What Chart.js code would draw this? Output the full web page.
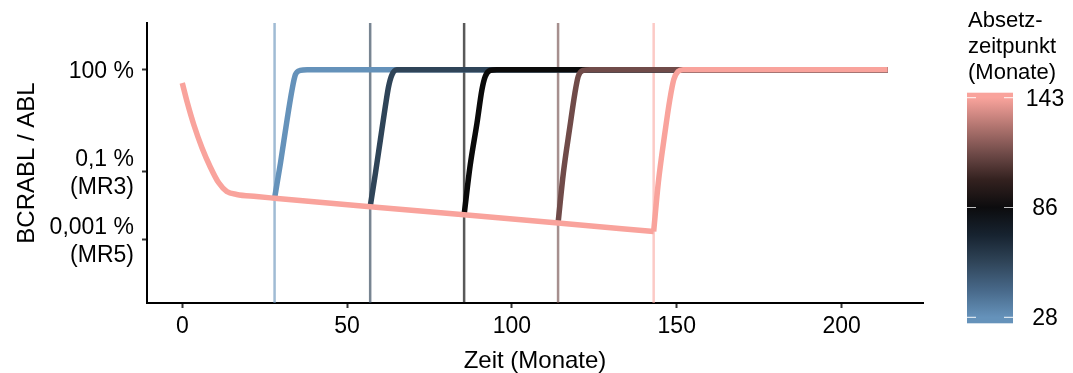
<!DOCTYPE html>
<html><head><meta charset="utf-8">
<script src="https://cdn.jsdelivr.net/npm/chart.js@4/dist/chart.umd.min.js"></script>
<style>html,body{margin:0;padding:0;background:#fff}#wrap{width:1073px;height:373px}</style>
</head><body><div id="wrap"><canvas id="c" width="1073" height="373"></canvas></div>
<script>
// ---- data (months, BCR-ABL/ABL in %) ----
const stopTimes = [28, 57, 85.5, 114, 143];
const seriesColors = ['#6592ba', '#2f4458', '#0a0a0a', '#704b49', '#f9a39c'];
const lineColors = ['rgba(101,146,186,0.62)', 'rgba(47,68,88,0.65)', 'rgba(10,10,10,0.68)', 'rgba(112,75,73,0.62)', 'rgba(249,163,156,0.58)'];

const baselineTimes  = [0, 1.5, 3.5, 6, 8.5, 11, 13.5, 16.5, 22.5, 28, 57, 85.5, 114, 143];
const baselineValues = [40.7, 11.0, 2.40, 0.50, 0.138, 0.0479, 0.0263, 0.0214, 0.0186, 0.0166, 0.0093, 0.0054, 0.0031, 0.00174];

const rise28Times   = [28, 29.8, 31.8, 33.3, 34.3, 35.8, 37.9, 214];
const rise28Values  = [0.0166, 0.182, 3.39, 25.7, 70.8, 95.5, 100, 100];
const rise57Times   = [57, 58.6, 60.1, 61.6, 62.6, 63.6, 65.1, 214];
const rise57Values  = [0.0093, 0.091, 0.87, 8.3, 32.4, 70.8, 100, 100];
const rise86Times   = [85.5, 87.3, 89.4, 90.9, 91.9, 93.4, 95.4, 214];
const rise86Values  = [0.0054, 0.145, 2.69, 25.7, 63.1, 95.5, 100, 100];
const rise114Times  = [114, 115.6, 117.6, 119.1, 120.1, 121.6, 123.6, 214];
const rise114Values = [0.0031, 0.091, 2.14, 20.4, 63.1, 95.5, 100, 100];
const rise143Times  = [143, 144.4, 146.4, 147.9, 149.1, 150.4, 151.9, 214];
const rise143Values = [0.00174, 0.0468, 1.38, 13.2, 51.3, 89.1, 100, 100];

const xTickValues = [0, 50, 100, 150, 200];
const yTickValues = [0.001, 0.1, 100];
const yTickLabels = [['0,001 %', '(MR5)'], ['0,1 %', '(MR3)'], ['100 %']];
const xLimits = [-10.7, 224.7];
const yLimits = [1.374e-5, 2366];

const legendTitle = ['Absetz-', 'zeitpunkt', '(Monate)'];
const legendTickValues = [28, 85.5, 143];
const legendTickLabels = ['28', '86', '143'];
const legendStopValues = [28, 42, 57, 71, 85.5, 100, 114, 128, 143];
const legendStopColors = ['#6592ba', '#48698a', '#2f4458', '#172330', '#0c0c0e', '#33211f', '#704b49', '#b27570', '#f9a39c'];

// ---- build datasets ----
const zip = (ts, vs) => ts.map((t, i) => ({x: t, y: vs[i]}));
const riseSets = [
  [rise28Times, rise28Values], [rise57Times, rise57Values], [rise86Times, rise86Values],
  [rise114Times, rise114Values], [rise143Times, rise143Values]
];
const FONT = "'Liberation Sans', Arial, sans-serif";
const lineBase = {borderWidth: 5.5, pointRadius: 0, cubicInterpolationMode: 'monotone', fill: false, borderCapStyle: 'butt', borderJoinStyle: 'round'};

const curveSets = riseSets.map((r, i) => Object.assign({}, lineBase, {data: zip(r[0], r[1]), borderColor: seriesColors[i]}));
curveSets.push(Object.assign({}, lineBase, {data: zip(baselineTimes, baselineValues), borderColor: seriesColors[seriesColors.length - 1]}));
curveSets.reverse(); // first dataset is drawn on top

const vlineSets = stopTimes.map((t, i) => ({
  data: [{x: t, y: yLimits[0]}, {x: t, y: yLimits[1]}],
  borderColor: lineColors[i], borderWidth: 2.5, pointRadius: 0, fill: false
}));

// ---- colorbar legend ----
const cbar = {left: 967, right: 1013, top: 92.7, bottom: 323.3, y28: 317.3, y143: 97.7};
const lv2y = v => cbar.y28 - (v - 28) * (cbar.y28 - cbar.y143) / (143 - 28);
const colorbarPlugin = {
  id: 'colorbar',
  afterDraw(chart) {
    const ctx = chart.ctx;
    ctx.save();
    const g = ctx.createLinearGradient(0, cbar.bottom, 0, cbar.top);
    const H = cbar.bottom - cbar.top;
    g.addColorStop(0, legendStopColors[0]);
    legendStopValues.forEach((v, i) => {
      const p = Math.min(1, Math.max(0, (cbar.bottom - lv2y(v)) / H));
      g.addColorStop(p, legendStopColors[i]);
    });
    g.addColorStop(1, legendStopColors[legendStopColors.length - 1]);
    ctx.fillStyle = g;
    ctx.fillRect(cbar.left, cbar.top, cbar.right - cbar.left, H);
    ctx.strokeStyle = 'rgba(255,255,255,0.75)';
    ctx.lineWidth = 1.2;
    ctx.font = '23px ' + FONT;
    ctx.fillStyle = '#000';
    ctx.textAlign = 'center';
    ctx.textBaseline = 'middle';
    legendTickValues.forEach((v, i) => {
      const y = lv2y(v);
      ctx.beginPath();
      ctx.moveTo(cbar.left, y); ctx.lineTo(cbar.left + 9, y);
      ctx.moveTo(cbar.right - 9, y); ctx.lineTo(cbar.right, y);
      ctx.stroke();
      ctx.fillText(legendTickLabels[i], 1045, y + 1.5);
    });
    ctx.textAlign = 'left';
    ctx.textBaseline = 'alphabetic';
    ctx.font = '22px ' + FONT;
    legendTitle.forEach((s, i) => ctx.fillText(s, 968, 26.5 + i * 26));
    ctx.restore();
  }
};

new Chart(document.getElementById('c'), {
  type: 'line',
  data: {datasets: curveSets.concat(vlineSets)},
  options: {
    responsive: false, animation: false, devicePixelRatio: 1,
    layout: {padding: {left: 0, top: 23, right: 150, bottom: 0}},
    plugins: {legend: {display: false}, tooltip: {enabled: false}},
    scales: {
      x: {
        type: 'linear', min: xLimits[0], max: xLimits[1],
        afterFit: s => { s.height = 70; },
        afterBuildTicks: s => { s.ticks = xTickValues.map(v => ({value: v})); },
        ticks: {color: '#000', font: {size: 23, family: FONT}, padding: 5, autoSkip: false, maxRotation: 0},
        grid: {display: true, drawOnChartArea: false, drawTicks: true, tickLength: 5, tickColor: '#333', tickWidth: 2},
        border: {display: true, color: '#000', width: 2},
        title: {display: true, text: 'Zeit (Monate)', color: '#000', font: {size: 24, family: FONT}, padding: {top: 0, bottom: -3}}
      },
      y: {
        type: 'logarithmic', min: yLimits[0], max: yLimits[1], bounds: 'data',
        afterFit: s => { s.width = 147; },
        afterBuildTicks: s => { s.ticks = yTickValues.map(v => ({value: v})); },
        ticks: {
          color: '#000', font: {size: 23, family: FONT, lineHeight: 1.22}, padding: 8, autoSkip: false, labelOffset: 2,
          callback: (v) => {
            const i = yTickValues.findIndex(t => Math.abs(Math.log10(t) - Math.log10(v)) < 1e-6);
            return i >= 0 ? yTickLabels[i] : '';
          }
        },
        grid: {display: true, drawOnChartArea: false, drawTicks: true, tickLength: 5, tickColor: '#333', tickWidth: 2},
        border: {display: true, color: '#000', width: 2},
        title: {display: true, text: 'BCRABL / ABL', color: '#000', font: {size: 24, family: FONT}, padding: {top: 13, bottom: 0}}
      }
    }
  },
  plugins: [colorbarPlugin]
});
</script>
</body></html>
